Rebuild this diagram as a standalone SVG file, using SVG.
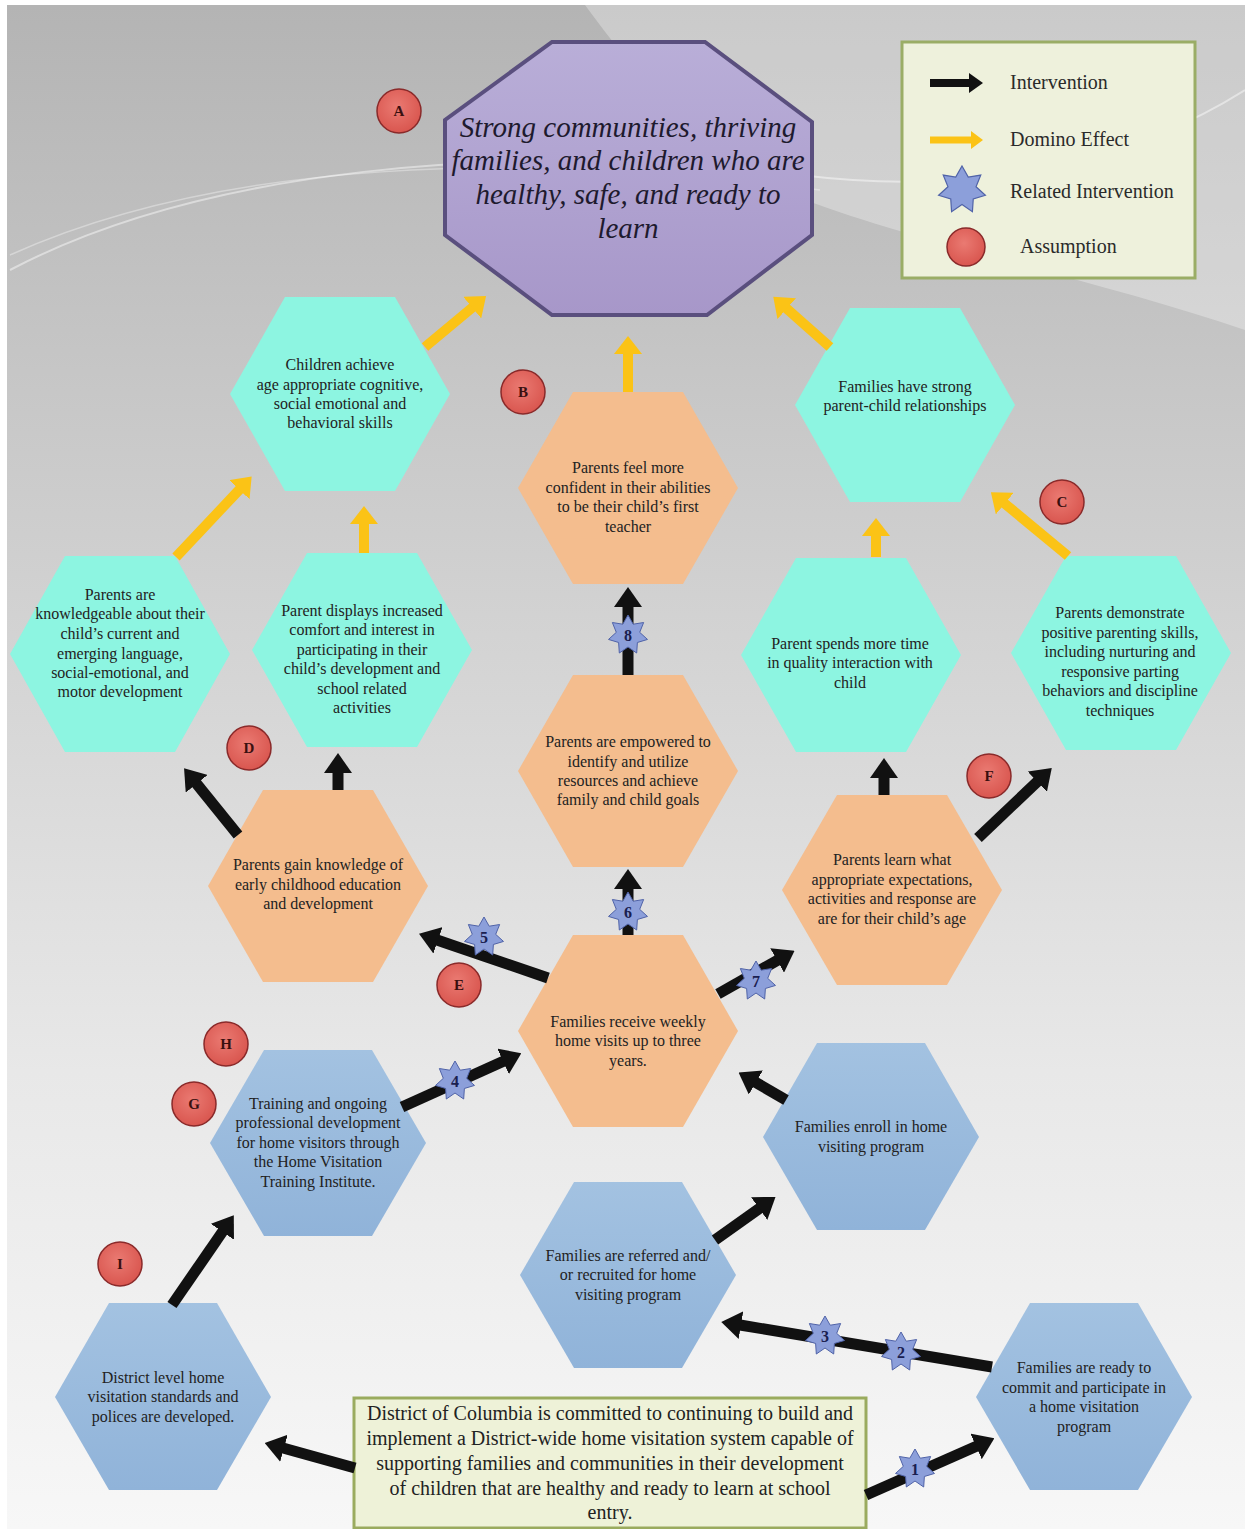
<svg xmlns="http://www.w3.org/2000/svg" xmlns:xlink="http://www.w3.org/1999/xlink" width="1245" height="1529" viewBox="0 0 1245 1529">
<style>
.ht{font-family:"Liberation Serif","Times New Roman",serif;font-size:16px;text-anchor:middle;fill:#222}
.oct{font-family:"Liberation Serif","Times New Roman",serif;font-size:29px;font-style:italic;text-anchor:middle;fill:#1e1a2e}
.lg{font-family:"Liberation Serif","Times New Roman",serif;font-size:20px;fill:#2a2a2a}
.bx{font-family:"Liberation Serif","Times New Roman",serif;font-size:20px;text-anchor:middle;fill:#222}
.al{font-family:"Liberation Serif","Times New Roman",serif;font-size:15px;font-weight:bold;text-anchor:middle;fill:#3a1010}
.sn{font-family:"Liberation Serif","Times New Roman",serif;font-size:16px;font-weight:bold;text-anchor:middle;fill:#1a2050}
.teal{fill:#8df5e1}
.orange{fill:#f4bd8e}
.blue{fill:url(#gBlue)}
.circ{fill:url(#gRed);stroke:#8a2a2a;stroke-width:1.5}
.star{fill:#8c9fda;stroke:#5063a8;stroke-width:1}
.blk{stroke:#111;stroke-width:11;fill:none;marker-end:url(#hBlk)}
.yel{stroke:#fbc316;stroke-width:10;fill:none;marker-end:url(#hYel)}
</style>
<defs>
<linearGradient id="gBg" x1="0" y1="0" x2="0" y2="1">
<stop offset="0" stop-color="#b4b4b4"/>
<stop offset="0.4" stop-color="#d2d2d2"/>
<stop offset="0.7" stop-color="#e8e8e8"/>
<stop offset="1" stop-color="#f7f7f7"/>
</linearGradient>
<linearGradient id="gOct" x1="0" y1="0" x2="0" y2="1">
<stop offset="0" stop-color="#b9aed8"/>
<stop offset="1" stop-color="#a797c9"/>
</linearGradient>
<linearGradient id="gBlue" x1="0" y1="0" x2="0" y2="1">
<stop offset="0" stop-color="#a3c2e1"/>
<stop offset="1" stop-color="#90b3d9"/>
</linearGradient>
<radialGradient id="gRed" cx="0.45" cy="0.4" r="0.6">
<stop offset="0" stop-color="#ea7a72"/>
<stop offset="1" stop-color="#d9564f"/>
</radialGradient>
<marker id="hBlk" viewBox="0 0 20 28" markerUnits="userSpaceOnUse" markerWidth="20" markerHeight="28" refX="1" refY="14" orient="auto">
<path d="M0,0 L20,14 L0,28 Z" fill="#111"/>
</marker>
<marker id="hYel" viewBox="0 0 18 28" markerUnits="userSpaceOnUse" markerWidth="18" markerHeight="28" refX="1" refY="14" orient="auto">
<path d="M0,0 L18,14 L0,28 Z" fill="#fbc316"/>
</marker>
<marker id="hBlkS" viewBox="0 0 14 20" markerUnits="userSpaceOnUse" markerWidth="14" markerHeight="20" refX="1" refY="10" orient="auto">
<path d="M0,0 L14,10 L0,20 Z" fill="#111"/>
</marker>
<marker id="hYelS" viewBox="0 0 12 18" markerUnits="userSpaceOnUse" markerWidth="12" markerHeight="18" refX="1" refY="9" orient="auto">
<path d="M0,0 L12,9 L0,18 Z" fill="#fbc316"/>
</marker>
<path id="star" d="M0,-20 L5.21,-10.81 L15.64,-12.47 L11.7,-2.67 L19.5,4.45 L9.38,7.48 L8.68,18.02 L0,12 L-8.68,18.02 L-9.38,7.48 L-19.5,4.45 L-11.7,-2.67 L-15.64,-12.47 L-5.21,-10.81 Z"/>
</defs>

<rect x="0" y="0" width="1245" height="1529" fill="#ffffff"/>
<g id="background">
<rect x="7" y="5" width="1238" height="1524" fill="url(#gBg)"/>
<path d="M585,5 L1245,5 L1245,330 C1100,280 900,240 780,190 C700,150 640,80 585,5 Z" fill="#ffffff" opacity="0.3"/>
<path d="M10,270 C200,170 500,140 800,175 C1000,200 1150,150 1245,90" fill="none" stroke="#ffffff" stroke-width="2" opacity="0.45"/>
<path d="M10,255 C220,160 520,150 820,190" fill="none" stroke="#ffffff" stroke-width="1.5" opacity="0.35"/>
</g>

<g id="goal">
<polygon points="552,42 705,42 812,122 812,235 707,315 552,315 445,235 445,120" fill="url(#gOct)" stroke="#5a4f7e" stroke-width="4"/>
<text class="oct" x="628" y="137">Strong communities, thriving</text>
<text class="oct" x="628" y="170">families, and children who are</text>
<text class="oct" x="628" y="204">healthy, safe, and ready to</text>
<text class="oct" x="628" y="238">learn</text>
</g>

<g id="legend">
<rect x="902" y="42" width="293" height="236" fill="#eef1dc" stroke="#9aad66" stroke-width="3"/>
<line x1="930" y1="83" x2="970" y2="83" stroke="#111" stroke-width="8" marker-end="url(#hBlkS)"/>
<text class="lg" x="1010" y="89">Intervention</text>
<line x1="930" y1="140" x2="972" y2="140" stroke="#fbc316" stroke-width="7" marker-end="url(#hYelS)"/>
<text class="lg" x="1010" y="146">Domino Effect</text>
<use xlink:href="#star" href="#star" class="star" transform="translate(962,190) scale(1.2)"/>
<text class="lg" x="1010" y="198">Related Intervention</text>
<circle class="circ" cx="966" cy="247" r="19"/>
<text class="lg" x="1020" y="253">Assumption</text>
</g>

<g id="n-children"><polygon class="teal" points="285,297 395,297 450,394 395,491 285,491 230,394"/>
<text class="ht" x="340" y="370">Children achieve</text><text class="ht" x="340" y="390">age appropriate cognitive,</text><text class="ht" x="340" y="409">social emotional and</text><text class="ht" x="340" y="428">behavioral skills</text></g>

<g id="n-knowledgeable"><polygon class="teal" points="65,556 175,556 230,654 175,752 65,752 10,654"/>
<text class="ht" x="120" y="600">Parents are</text><text class="ht" x="120" y="619">knowledgeable about their</text><text class="ht" x="120" y="639">child’s current and</text><text class="ht" x="120" y="659">emerging language,</text><text class="ht" x="120" y="678">social-emotional, and</text><text class="ht" x="120" y="697">motor development</text></g>

<g id="n-displays"><polygon class="teal" points="307,553 417,553 472,650 417,747 307,747 252,650"/>
<text class="ht" x="362" y="616">Parent displays increased</text><text class="ht" x="362" y="635">comfort and interest in</text><text class="ht" x="362" y="655">participating in their</text><text class="ht" x="362" y="674">child’s development and</text><text class="ht" x="362" y="694">school related</text><text class="ht" x="362" y="713">activities</text></g>

<g id="n-strong"><polygon class="teal" points="850,308 960,308 1015,405 960,502 850,502 795,405"/>
<text class="ht" x="905" y="392">Families have strong</text><text class="ht" x="905" y="411">parent-child relationships</text></g>

<g id="n-spends"><polygon class="teal" points="796,558 906,558 961,655 906,752 796,752 741,655"/>
<text class="ht" x="850" y="649">Parent spends more time</text><text class="ht" x="850" y="668">in quality interaction with</text><text class="ht" x="850" y="688">child</text></g>

<g id="n-demonstrate"><polygon class="teal" points="1066,556 1176,556 1231,653 1176,750 1066,750 1011,653"/>
<text class="ht" x="1120" y="618">Parents demonstrate</text><text class="ht" x="1120" y="638">positive parenting skills,</text><text class="ht" x="1120" y="657">including nurturing and</text><text class="ht" x="1120" y="677">responsive parting</text><text class="ht" x="1120" y="696">behaviors and discipline</text><text class="ht" x="1120" y="716">techniques</text></g>

<g id="n-confident"><polygon class="orange" points="573,392 683,392 738,488 683,584 573,584 518,488"/>
<text class="ht" x="628" y="473">Parents feel more</text><text class="ht" x="628" y="493">confident in their abilities</text><text class="ht" x="628" y="512">to be their child’s first</text><text class="ht" x="628" y="532">teacher</text></g>

<g id="n-empowered"><polygon class="orange" points="573,675 683,675 738,771 683,867 573,867 518,771"/>
<text class="ht" x="628" y="747">Parents are empowered to</text><text class="ht" x="628" y="767">identify and utilize</text><text class="ht" x="628" y="786">resources and achieve</text><text class="ht" x="628" y="805">family and child goals</text></g>

<g id="n-gain"><polygon class="orange" points="263,790 373,790 428,886 373,982 263,982 208,886"/>
<text class="ht" x="318" y="870">Parents gain knowledge of</text><text class="ht" x="318" y="890">early childhood education</text><text class="ht" x="318" y="909">and development</text></g>

<g id="n-learn"><polygon class="orange" points="837,795 947,795 1002,890 947,985 837,985 782,890"/>
<text class="ht" x="892" y="865">Parents learn what</text><text class="ht" x="892" y="885">appropriate expectations,</text><text class="ht" x="892" y="904">activities and response are</text><text class="ht" x="892" y="924">are for their child’s age</text></g>

<g id="n-weekly"><polygon class="orange" points="573,935 683,935 738,1031 683,1127 573,1127 518,1031"/>
<text class="ht" x="628" y="1027">Families receive weekly</text><text class="ht" x="628" y="1046">home visits up to three</text><text class="ht" x="628" y="1066">years.</text></g>

<g id="n-training"><polygon class="blue" points="264,1050 372,1050 426,1143 372,1236 264,1236 210,1143"/>
<text class="ht" x="318" y="1109">Training and ongoing</text><text class="ht" x="318" y="1128">professional development</text><text class="ht" x="318" y="1148">for home visitors through</text><text class="ht" x="318" y="1167">the Home Visitation</text><text class="ht" x="318" y="1187">Training Institute.</text></g>

<g id="n-enroll"><polygon class="blue" points="817,1043 925,1043 979,1137 925,1230 817,1230 763,1137"/>
<text class="ht" x="871" y="1132">Families enroll in home</text><text class="ht" x="871" y="1152">visiting program</text></g>

<g id="n-referred"><polygon class="blue" points="574,1182 682,1182 736,1275 682,1368 574,1368 520,1275"/>
<text class="ht" x="628" y="1261">Families are referred and/</text><text class="ht" x="628" y="1280">or recruited for home</text><text class="ht" x="628" y="1300">visiting program</text></g>

<g id="n-district"><polygon class="blue" points="109,1303 217,1303 271,1397 217,1490 109,1490 55,1397"/>
<text class="ht" x="163" y="1383">District level home</text><text class="ht" x="163" y="1402">visitation standards and</text><text class="ht" x="163" y="1422">polices are developed.</text></g>

<g id="n-ready"><polygon class="blue" points="1030,1303 1138,1303 1192,1397 1138,1490 1030,1490 976,1397"/>
<text class="ht" x="1084" y="1373">Families are ready to</text><text class="ht" x="1084" y="1393">commit and participate in</text><text class="ht" x="1084" y="1412">a home visitation</text><text class="ht" x="1084" y="1432">program</text></g>

<g id="n-commitment">
<rect x="354" y="1398" width="512" height="130" fill="#eef2d8" stroke="#9aab5e" stroke-width="3"/>
<text class="bx" x="610" y="1420">District of Columbia is committed to continuing to build and</text>
<text class="bx" x="610" y="1445">implement a District-wide home visitation system capable of</text>
<text class="bx" x="610" y="1470">supporting families and communities in their development</text>
<text class="bx" x="610" y="1495">of children that are healthy and ready to learn at school</text>
<text class="bx" x="610" y="1519">entry.</text>
</g>

<g id="connectors">
<line class="yel" x1="425" y1="347" x2="473" y2="307"/>
<line class="yel" x1="628" y1="392" x2="628" y2="353"/>
<line class="yel" x1="830" y1="347" x2="786" y2="308"/>
<line class="yel" x1="176" y1="557" x2="240" y2="489"/>
<line class="yel" x1="364" y1="553" x2="364" y2="523"/>
<line class="yel" x1="876" y1="557" x2="876" y2="535"/>
<line class="yel" x1="1068" y1="556" x2="1004" y2="503"/>

<line class="blk" x1="628" y1="675" x2="628" y2="606"/>
<line class="blk" x1="628" y1="935" x2="628" y2="888"/>
<line class="blk" x1="548" y1="978" x2="437" y2="940"/>
<line class="blk" x1="718" y1="994" x2="778" y2="960"/>
<line class="blk" x1="238" y1="835" x2="196" y2="783"/>
<line class="blk" x1="338" y1="790" x2="338" y2="772"/>
<line class="blk" x1="884" y1="795" x2="884" y2="777"/>
<line class="blk" x1="978" y1="838" x2="1038" y2="781"/>
<line class="blk" x1="402" y1="1107" x2="504" y2="1061"/>
<line class="blk" x1="786" y1="1100" x2="755" y2="1082"/>
<line class="blk" x1="715" y1="1240" x2="760" y2="1208"/>
<line class="blk" x1="992" y1="1367" x2="740" y2="1325"/>
<line class="blk" x1="172" y1="1305" x2="223" y2="1231"/>
<line class="blk" x1="355" y1="1468" x2="283" y2="1448"/>
<line class="blk" x1="866" y1="1495" x2="977" y2="1446"/>

<g id="stars">
<use xlink:href="#star" href="#star" class="star" x="915" y="1469"/><text class="sn" x="915" y="1475">1</text>
<use xlink:href="#star" href="#star" class="star" x="901" y="1352"/><text class="sn" x="901" y="1358">2</text>
<use xlink:href="#star" href="#star" class="star" x="825" y="1336"/><text class="sn" x="825" y="1342">3</text>
<use xlink:href="#star" href="#star" class="star" x="455" y="1081"/><text class="sn" x="455" y="1087">4</text>
<use xlink:href="#star" href="#star" class="star" x="484" y="937"/><text class="sn" x="484" y="943">5</text>
<use xlink:href="#star" href="#star" class="star" x="628" y="912"/><text class="sn" x="628" y="918">6</text>
<use xlink:href="#star" href="#star" class="star" x="756" y="981"/><text class="sn" x="756" y="987">7</text>
<use xlink:href="#star" href="#star" class="star" x="628" y="635"/><text class="sn" x="628" y="641">8</text>
</g>
</g>

<g id="assumptions">
<g id="a-A"><circle class="circ" cx="399" cy="111" r="22"/><text class="al" x="399" y="116">A</text></g>
<g id="a-B"><circle class="circ" cx="523" cy="392" r="22"/><text class="al" x="523" y="397">B</text></g>
<g id="a-C"><circle class="circ" cx="1062" cy="502" r="22"/><text class="al" x="1062" y="507">C</text></g>
<g id="a-D"><circle class="circ" cx="249" cy="748" r="22"/><text class="al" x="249" y="753">D</text></g>
<g id="a-E"><circle class="circ" cx="459" cy="985" r="22"/><text class="al" x="459" y="990">E</text></g>
<g id="a-F"><circle class="circ" cx="989" cy="776" r="22"/><text class="al" x="989" y="781">F</text></g>
<g id="a-G"><circle class="circ" cx="194" cy="1104" r="22"/><text class="al" x="194" y="1109">G</text></g>
<g id="a-H"><circle class="circ" cx="226" cy="1044" r="22"/><text class="al" x="226" y="1049">H</text></g>
<g id="a-I"><circle class="circ" cx="120" cy="1264" r="22"/><text class="al" x="120" y="1269">I</text></g>
</g>
</svg>
